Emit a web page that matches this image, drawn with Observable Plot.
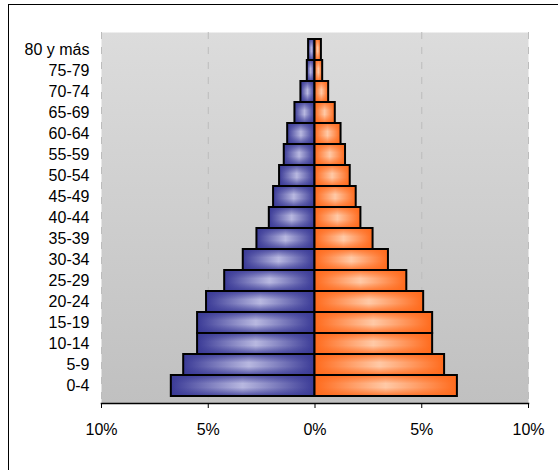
<!DOCTYPE html>
<html>
<head>
<meta charset="utf-8">
<script src="https://cdn.jsdelivr.net/npm/d3@7"></script>
<script src="https://cdn.jsdelivr.net/npm/@observablehq/plot@0.6"></script>
<style>
  html, body { margin: 0; padding: 0; background: #fff; overflow: hidden; }
  #wrap { position: relative; width: 558px; height: 470px; }
  #chart { position: absolute; left: 0; top: 0; }
  #border { position: absolute; left: 8px; top: 4px; width: 700px; height: 700px;
            border-left: 1px solid #000; border-top: 1px solid #000; pointer-events: none; }
</style>
</head>
<body>
<div id="wrap"><div id="chart"></div><div id="border"></div></div>
<script>
// Age groups (bottom to top)
const ageGroups = ["0-4","5-9","10-14","15-19","20-24","25-29","30-34","35-39","40-44",
                   "45-49","50-54","55-59","60-64","65-69","70-74","75-79","80 y más"];
// Percent of population
const male   = [6.73, 6.15, 5.50, 5.50, 5.08, 4.23, 3.36, 2.72, 2.14, 1.94, 1.66, 1.44, 1.28, 0.94, 0.66, 0.36, 0.30];
const female = [6.67, 6.07, 5.51, 5.51, 5.09, 4.30, 3.44, 2.72, 2.15, 1.93, 1.65, 1.43, 1.22, 0.95, 0.64, 0.36, 0.30];
const xTicks = [-10, -5, 0, 5, 10];
const gridTicks = [-10, -5, 5, 10];

const maleRows = ageGroups.map((g, i) => ({age: g, value: -male[i]}));
const femaleRows = ageGroups.map((g, i) => ({age: g, value: female[i]}));

const svg = Plot.plot({
  width: 558,
  height: 470,
  marginLeft: 101,
  marginRight: 30,
  marginTop: 32,
  marginBottom: 67,
  style: {fontFamily: "'Liberation Sans', Arial, sans-serif", fontSize: "16px", background: "transparent", color: "#000"},
  x: {domain: [-10, 10], label: null},
  y: {domain: ageGroups.slice().reverse(), padding: 0, label: null},
  marks: [
    Plot.frame({fill: "url(#bgGrad)", stroke: null}),
    Plot.ruleX(gridTicks, {stroke: "#bcbcbc", strokeWidth: 1, strokeDasharray: "7,8"}),
    Plot.barX(maleRows, {x: "value", y: "age", fill: "url(#gMale)", stroke: null}),
    Plot.barX(maleRows, {x: "value", y: "age", fill: "url(#gMaleV)", stroke: "#000", strokeWidth: 2}),
    Plot.barX(femaleRows, {x: "value", y: "age", fill: "url(#gFemale)", stroke: null}),
    Plot.barX(femaleRows, {x: "value", y: "age", fill: "url(#gFemaleV)", stroke: "#000", strokeWidth: 2}),
    Plot.frame({anchor: "bottom", stroke: "#000", strokeWidth: 1.5}),
    Plot.axisX({ticks: xTicks, tickFormat: d => Math.abs(d) + "%", tickSize: 5, tickPadding: 15, label: null, fontSize: 16}),
    Plot.axisY({tickSize: 0, tickPadding: 12, label: null, fontSize: 16})
  ]
});

const defs = d3.select(svg).insert("defs", ":first-child");
function hGrad(id, edge, center) {
  const g = defs.append("linearGradient").attr("id", id).attr("x1", 0).attr("x2", 1).attr("y1", 0).attr("y2", 0);
  g.append("stop").attr("offset", 0).attr("stop-color", edge);
  g.append("stop").attr("offset", 0.5).attr("stop-color", center);
  g.append("stop").attr("offset", 1).attr("stop-color", edge);
}
function vGrad(id, edge) {
  const g = defs.append("linearGradient").attr("id", id).attr("x1", 0).attr("x2", 0).attr("y1", 0).attr("y2", 1);
  g.append("stop").attr("offset", 0).attr("stop-color", edge).attr("stop-opacity", 0.85);
  g.append("stop").attr("offset", 0.4).attr("stop-color", edge).attr("stop-opacity", 0);
  g.append("stop").attr("offset", 0.6).attr("stop-color", edge).attr("stop-opacity", 0);
  g.append("stop").attr("offset", 1).attr("stop-color", edge).attr("stop-opacity", 0.85);
}
hGrad("gMale", "#3a3a96", "#b8b8e0");
vGrad("gMaleV", "#3a3a96");
hGrad("gFemale", "#ff6a1c", "#ffc9a6");
vGrad("gFemaleV", "#ff6a1c");
const bg = defs.append("linearGradient").attr("id", "bgGrad").attr("x1", 0).attr("x2", 0).attr("y1", 0).attr("y2", 1);
bg.append("stop").attr("offset", 0).attr("stop-color", "#dcdcdc");
bg.append("stop").attr("offset", 1).attr("stop-color", "#c0c0c0");

document.getElementById("chart").appendChild(svg);
</script>
</body>
</html>
